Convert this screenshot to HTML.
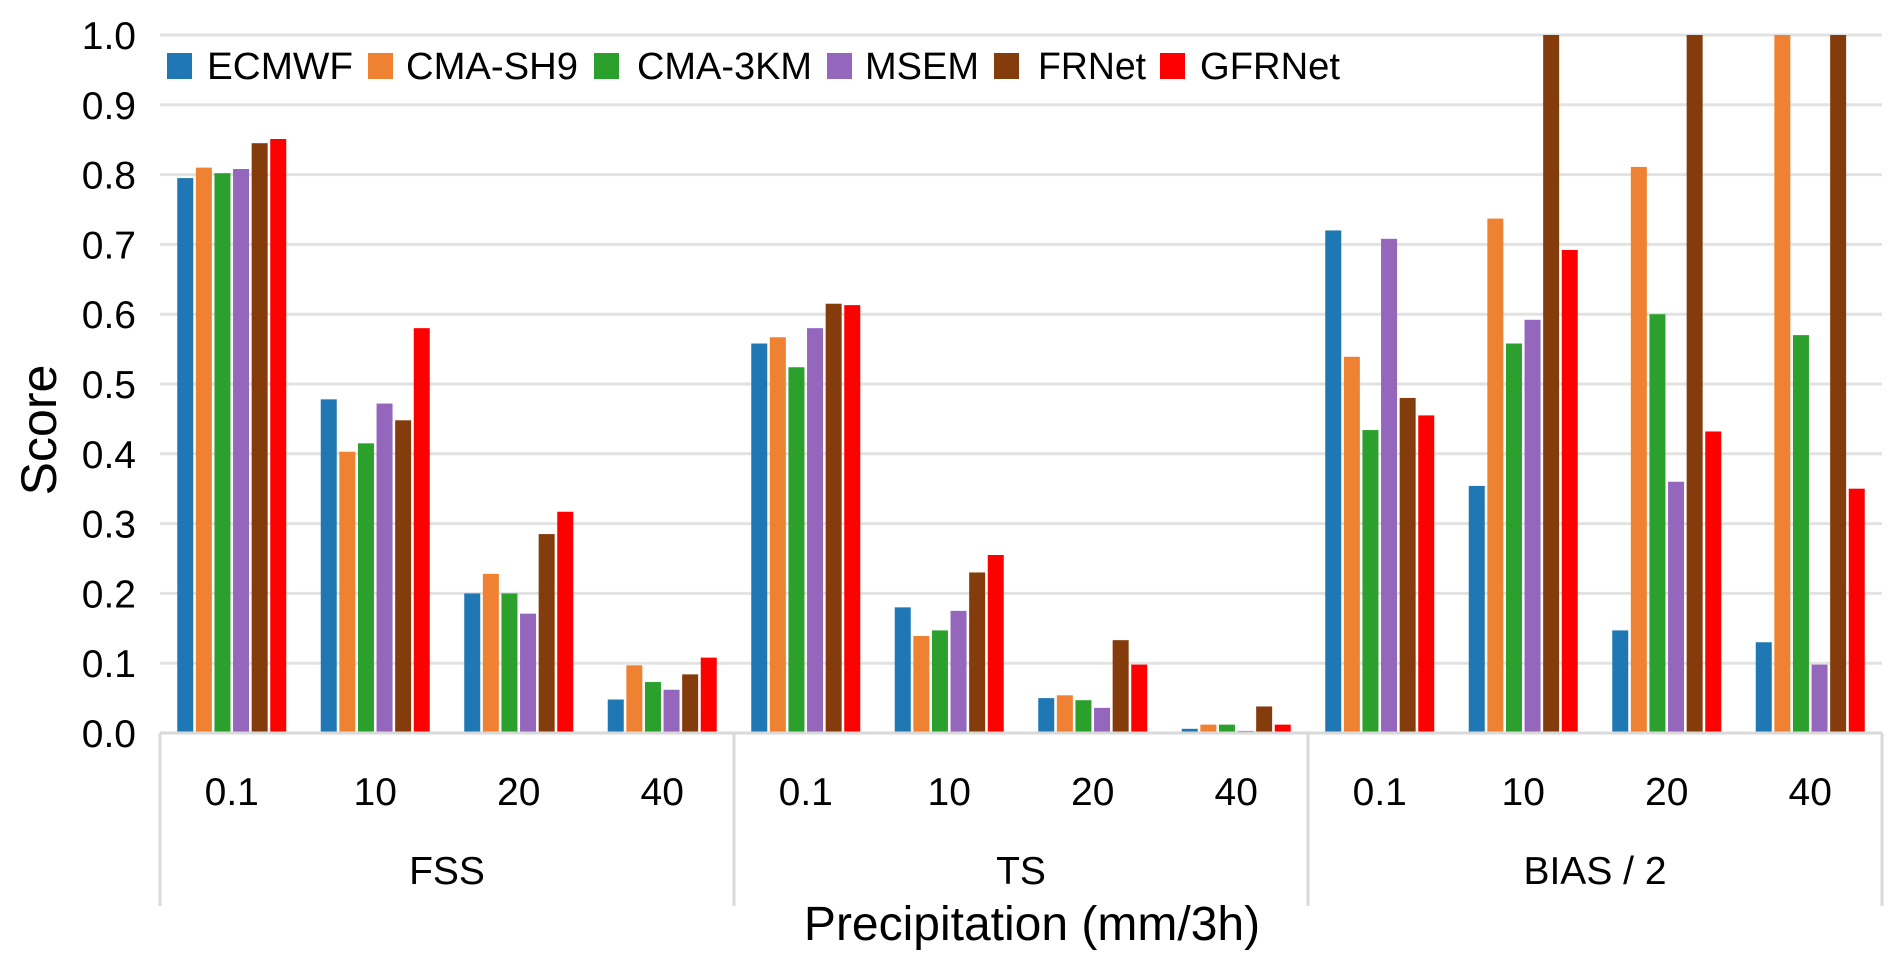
<!DOCTYPE html>
<html><head><meta charset="utf-8"><style>
html,body{margin:0;padding:0;background:#fff;}
svg{display:block;font-family:"Liberation Sans",Arial,sans-serif;}
</style></head><body>
<svg id="chart" width="1892" height="968" viewBox="0 0 1892 968" xmlns="http://www.w3.org/2000/svg"></svg>
<script>
const groups = ["FSS","TS","BIAS / 2"];
const thresholds = ["0.1","10","20","40"];
const seriesNames = ["ECMWF","CMA-SH9","CMA-3KM","MSEM","FRNet","GFRNet"];
const seriesColors = ["#1f77b4","#ef8232","#2ca02c","#9467bd","#843c0c","#ff0000"];
const yTicks = ["0.0","0.1","0.2","0.3","0.4","0.5","0.6","0.7","0.8","0.9","1.0"];
const ecmwf  = [0.795,0.478,0.200,0.048, 0.558,0.180,0.050,0.006, 0.720,0.354,0.147,0.130];
const cmaSh9 = [0.810,0.403,0.228,0.097, 0.567,0.139,0.054,0.012, 0.539,0.737,0.811,1.000];
const cma3km = [0.802,0.415,0.200,0.073, 0.524,0.147,0.047,0.012, 0.434,0.558,0.600,0.570];
const msem   = [0.808,0.472,0.171,0.062, 0.580,0.175,0.036,0.003, 0.708,0.592,0.360,0.098];
const frnet  = [0.845,0.448,0.285,0.084, 0.615,0.230,0.133,0.038, 0.480,1.000,1.000,1.000];
const gfrnet = [0.851,0.580,0.317,0.108, 0.613,0.255,0.098,0.012, 0.455,0.692,0.432,0.350];
const seriesValues = [ecmwf,cmaSh9,cma3km,msem,frnet,gfrnet];

const svg = document.getElementById('chart');
const NS = "http://www.w3.org/2000/svg";
const X0 = 160, X1 = 1882, Y0 = 733, Y1 = 35;
const nCat = groups.length * thresholds.length;
const catW = (X1 - X0) / nCat;
function y(v){ return Y0 - (v/1.0)*(Y0 - Y1); }
function catX(i){ return X0 + catW*(i+0.5); }
function mk(tag, attrs, text){
  const e = document.createElementNS(NS, tag);
  for (const k in attrs) e.setAttribute(k, attrs[k]);
  if (text !== undefined) e.textContent = text;
  svg.appendChild(e);
  return e;
}
yTicks.forEach((t,i)=>{
  const v = parseFloat(t);
  if (i>0){
    const g = mk('line',{x1:X0,x2:X1,y1:y(v),y2:y(v),stroke:'#e2e2e2','stroke-width':3});
    
    
  }
  const tl = mk('text',{x:136,y:y(v)+14,'text-anchor':'end','font-size':39,fill:'#000'},t);
  
  
});
const step = 18.6, bw = 16;
for (let c=0;c<nCat;c++){
  for (let s=0;s<seriesValues.length;s++){
    const v = seriesValues[s][c];
    const bx = catX(c) - step*2.5 + step*s - bw/2;
    const r = mk('rect',{x:bx,y:y(v),width:bw,height:Y0-y(v),fill:seriesColors[s]});
    
    
  }
}
const ax = mk('line',{x1:X0,x2:X1,y1:Y0,y2:Y0,stroke:'#d9d9d9','stroke-width':3});


for (let g=0; g<=groups.length; g++){
  const sx = X0 + g*thresholds.length*catW;
  const l = mk('line',{x1:sx,x2:sx,y1:Y0,y2:906,stroke:'#d9d9d9','stroke-width':3});
  
  
}
for (let c=0;c<nCat;c++){
  const t = mk('text',{x:catX(c),y:805,'text-anchor':'middle','font-size':39,fill:'#000'},thresholds[c%thresholds.length]);
  
  
}
groups.forEach((gname,g)=>{
  const cx = X0 + (g+0.5)*thresholds.length*catW;
  const t = mk('text',{x:cx,y:884,'text-anchor':'middle','font-size':39,fill:'#000'},gname);
  
  
});
const xt = mk('text',{x:1032,y:940,'text-anchor':'middle','font-size':48,fill:'#000'},'Precipitation (mm/3h)');


const yt = mk('text',{x:0,y:0,'text-anchor':'middle','font-size':50,fill:'#000',transform:'translate(56,430) rotate(-90)'},'Score');


const legX = [167,368,594,827,994,1160];
const legTX = [207,406,637,865,1038,1200];
const legW = [146,172,175,114,108,140];
seriesNames.forEach((n,i)=>{
  const r = mk('rect',{x:legX[i],y:53,width:25,height:26,fill:seriesColors[i]});
  
  
  const t = mk('text',{x:legTX[i],y:79,'font-size':38,fill:'#000',textLength:legW[i],lengthAdjust:'spacingAndGlyphs'},n);
  
  
});
</script>
</body></html>
